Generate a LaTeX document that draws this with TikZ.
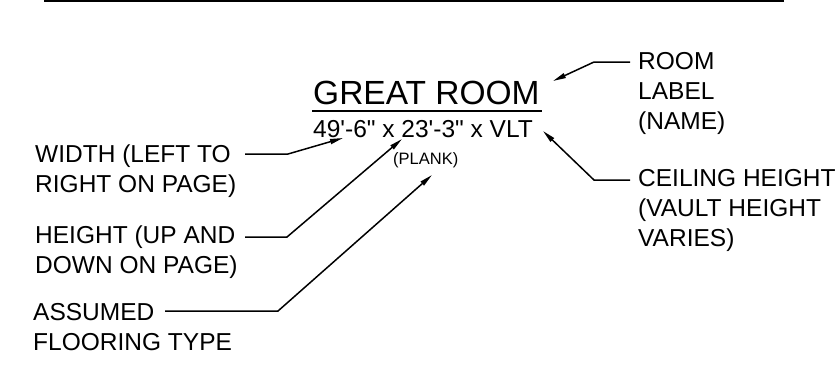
\documentclass[tikz,border=0pt]{standalone}
\usepackage{fontspec}
\setmainfont{Liberation Sans}
\usetikzlibrary{arrows.meta}

\tikzstyle{lbl}=[anchor=base west, inner sep=0pt, align=left, font=\fontsize{24.5}{30}\selectfont]
\tikzstyle{leader}=[-{Triangle[length=13pt, width=5pt]}, line width=1.5pt]

\begin{document}
\begin{tikzpicture}[x=1pt, y=-1pt]
    \useasboundingbox (0,0) rectangle (837,368);
    \draw[line width=2pt] (44,1) -- (784,1);

    % room tag
    \node[anchor=base west, inner sep=0pt, font=\fontsize{33.5}{36}\selectfont] (name) at (313,104) {GREAT ROOM};
    \draw[line width=2pt] (312,111) -- (542,111);
    \node[anchor=base west, inner sep=0pt, font=\fontsize{24.5}{30}\selectfont] (dims) at (313,137)
        {49\textquotesingle-6\textquotedbl{} x 23\textquotesingle-3\textquotedbl{} x VLT};
    \node[anchor=base west, inner sep=0pt, font=\fontsize{16.5}{18}\selectfont] (floor) at (393,164) {(PLANK)};

    % labels (base = last line)
    \node[lbl] (width) at (35,192) {WIDTH (LEFT TO\\RIGHT ON PAGE)};
    \node[lbl] (height) at (35,273) {HEIGHT (UP AND\\DOWN ON PAGE)};
    \node[lbl] (flooring) at (33,350) {ASSUMED\\FLOORING TYPE};
    \node[lbl] (roomlbl) at (638,129) {ROOM\\LABEL\\(NAME)};
    \node[lbl] (ceiling) at (638,246) {CEILING HEIGHT\\(VAULT HEIGHT\\VARIES)};

    % leaders
    \coordinate (w0) at (245,154);
    \coordinate (w1) at (288,154);
    \coordinate (wtip) at (343,138);
    \coordinate (h0) at (245,237);
    \coordinate (h1) at (287,237);
    \coordinate (htip) at (402,139);
    \coordinate (f0) at (165,311);
    \coordinate (f1) at (278,311);
    \coordinate (ftip) at (432,175);
    \coordinate (r0) at (630,62);
    \coordinate (r1) at (594,62);
    \coordinate (rtip) at (553,81);
    \coordinate (c0) at (630,180);
    \coordinate (c1) at (594,180);
    \coordinate (ctip) at (543,131);
    \draw[leader] (w0) -- (w1) -- (wtip);
    \draw[leader] (h0) -- (h1) -- (htip);
    \draw[leader] (f0) -- (f1) -- (ftip);
    \draw[leader] (r0) -- (r1) -- (rtip);
    \draw[leader] (c0) -- (c1) -- (ctip);
\end{tikzpicture}
\end{document}
